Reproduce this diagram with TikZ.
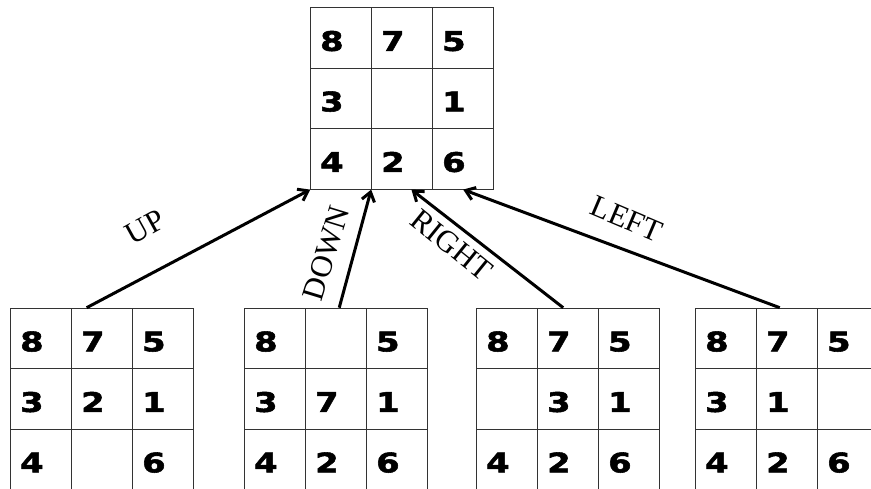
\documentclass[tikz,border=0pt]{standalone}
\usepackage{fontspec}
\setmainfont{Liberation Serif}
\newfontfamily\digitfont[FakeStretch=1.25, BoldFeatures={FakeBold=2}]{DejaVu Sans}
\usetikzlibrary{arrows.meta,matrix,calc}

\begin{document}
\begin{tikzpicture}[x=1pt, y=-1pt,
    cell/.style={draw=black!80, line width=0.9pt,
                 text width=42pt, inner xsep=9.5pt, align=left,
                 minimum height=60.5pt, text height=26pt, text depth=0pt,
                 font=\digitfont\bfseries\fontsize{27}{27}\selectfont},
    puzzle/.style={matrix of nodes, nodes in empty cells, anchor=north west,
                   inner sep=0pt, column sep=-0.9pt, row sep=-0.9pt,
                   nodes={cell}},
    move/.style={-{Straight Barb[length=9pt,width=13pt]}, line width=3pt},
    lbl/.style={font=\fontsize{31}{31}\selectfont, inner sep=0pt}
  ]
  \clip (0,0) rectangle (871,489);
  %% Start state
  \matrix (top) [puzzle] at (310,7) {
    8 & 7 & 5 \\
    3 &   & 1 \\
    4 & 2 & 6 \\
  };
  %% Successor states
  \matrix (g1) [puzzle] at (10,307.5) {
    8 & 7 & 5 \\
    3 & 2 & 1 \\
    4 &   & 6 \\
  };
  \matrix (g2) [puzzle] at (244,307.5) {
    8 &   & 5 \\
    3 & 7 & 1 \\
    4 & 2 & 6 \\
  };
  \matrix (g3) [puzzle] at (476,307.5) {
    8 & 7 & 5 \\
      & 3 & 1 \\
    4 & 2 & 6 \\
  };
  \matrix (g4) [puzzle] at (695,307.5) {
    8 & 7 & 5 \\
    3 & 1 &   \\
    4 & 2 & 6 \\
  };
  %% Moves
  \draw[move] ($(g1-1-2.north west)!0.25!(g1-1-2.north east)$) -- (top-3-1.south west);
  \draw[move] ($(g2-1-2.north west)!0.55!(g2-1-2.north east)$) -- (top-3-2.south west);
  \draw[move] ($(g3-1-2.north west)!0.42!(g3-1-2.north east)$) -- ($(top-3-2.south west)!0.65!(top-3-2.south east)$);
  \draw[move] ($(g4-1-2.north west)!0.38!(g4-1-2.north east)$) -- (top-3-3.south);
  %% Move labels
  \node[lbl, rotate=29]  (lup)    at (145,227) {UP};
  \node[lbl, rotate=73]  (ldown)  at (326,253) {DOWN};
  \node[lbl, rotate=-39] (lright) at (452,245) {RIGHT};
  \node[lbl, rotate=-23] (lleft)  at (627,219) {LEFT};
\end{tikzpicture}
\end{document}
